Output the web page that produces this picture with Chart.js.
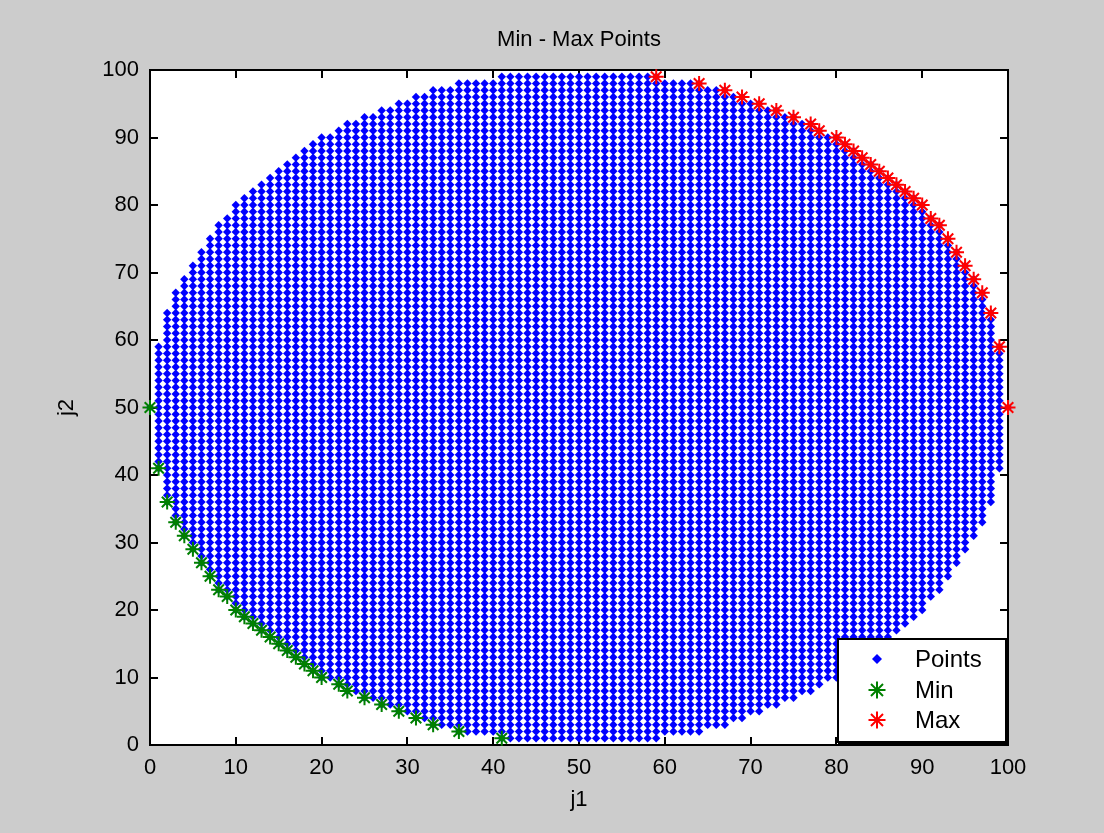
<!DOCTYPE html>
<html>
<head>
<meta charset="utf-8">
<script src="https://cdn.jsdelivr.net/npm/chart.js@4.4.1/dist/chart.umd.min.js"></script>
<style>
  html, body { margin: 0; padding: 0; background: #cccccc; }
  #wrap { width: 1104px; height: 833px; }
  canvas { display: block; }
</style>
</head>
<body>
<div id="wrap"><canvas id="c" width="1104" height="833"></canvas></div>
<script>
// ---------- text ----------
const chartTitle = 'Min - Max Points';
const xAxisLabel = 'j1';
const yAxisLabel = 'j2';
const legendLabels = ['Points', 'Min', 'Max'];

// ---------- tick labels ----------
const xTicks = [0, 10, 20, 30, 40, 50, 60, 70, 80, 90, 100];
const yTicks = [0, 10, 20, 30, 40, 50, 60, 70, 80, 90, 100];

// ---------- blue point cloud: one row per j2 value, first and last j1 of the row ----------
const rowJ2 = [
   1,  2,  3,  4,  5,  6,  7,  8,  9, 10,
  11, 12, 13, 14, 15, 16, 17, 18, 19, 20,
  21, 22, 23, 24, 25, 26, 27, 28, 29, 30,
  31, 32, 33, 34, 35, 36, 37, 38, 39, 40,
  41, 42, 43, 44, 45, 46, 47, 48, 49, 50,
  51, 52, 53, 54, 55, 56, 57, 58, 59, 60,
  61, 62, 63, 64, 65, 66, 67, 68, 69, 70,
  71, 72, 73, 74, 75, 76, 77, 78, 79, 80,
  81, 82, 83, 84, 85, 86, 87, 88, 89, 90,
  91, 92, 93, 94, 95, 96, 97, 98, 99
];
const rowJ1First = [
  41, 36, 33, 31, 29, 27, 25, 23, 22, 20,
  19, 18, 17, 16, 15, 14, 13, 12, 11, 10,
  10,  9,  8,  8,  7,  7,  6,  6,  5,  5,
   4,  4,  3,  3,  3,  2,  2,  2,  2,  2,
   1,  1,  1,  1,  1,  1,  1,  1,  1,  0,
   1,  1,  1,  1,  1,  1,  1,  1,  1,  2,
   2,  2,  2,  2,  3,  3,  3,  4,  4,  5,
   5,  6,  6,  7,  7,  8,  8,  9, 10, 10,
  11, 12, 13, 14, 15, 16, 17, 18, 19, 20,
  22, 23, 25, 27, 29, 31, 33, 36, 41
];
const rowJ1Last = [
  59, 64, 67, 69, 71, 73, 75, 77, 78, 80,
  81, 82, 83, 84, 85, 86, 87, 88, 89, 90,
  90, 91, 92, 92, 93, 93, 94, 94, 95, 95,
  96, 96, 97, 97, 97, 98, 98, 98, 98, 98,
  99, 99, 99, 99, 99, 99, 99, 99, 99, 100,
  99, 99, 99, 99, 99, 99, 99, 99, 99, 98,
  98, 98, 98, 98, 97, 97, 97, 96, 96, 95,
  95, 94, 94, 93, 93, 92, 92, 91, 90, 90,
  89, 88, 87, 86, 85, 84, 83, 82, 81, 80,
  78, 77, 75, 73, 71, 69, 67, 64, 59
];

// ---------- Min points (green) ----------
const minJ1 = [0, 1, 2, 3, 4, 5, 6, 7, 8, 9, 10, 11, 12, 13, 14, 15, 16, 17, 18, 19, 20, 22, 23, 25, 27, 29, 31, 33, 36, 41];
const minJ2 = [50, 41, 36, 33, 31, 29, 27, 25, 23, 22, 20, 19, 18, 17, 16, 15, 14, 13, 12, 11, 10, 9, 8, 7, 6, 5, 4, 3, 2, 1];

// ---------- Max points (red) ----------
const maxJ1 = [59, 64, 67, 69, 71, 73, 75, 77, 78, 80, 81, 82, 83, 84, 85, 86, 87, 88, 89, 90, 91, 92, 93, 94, 95, 96, 97, 98, 99, 100];
const maxJ2 = [99, 98, 97, 96, 95, 94, 93, 92, 91, 90, 89, 88, 87, 86, 85, 84, 83, 82, 81, 80, 78, 77, 75, 73, 71, 69, 67, 64, 59, 50];

// ---------- build data for the library ----------
const pointsData = [];
rowJ2.forEach((j2, i) => {
  for (let j1 = rowJ1First[i]; j1 <= rowJ1Last[i]; j1++) pointsData.push({ x: j1, y: j2 });
});
const minData = minJ1.map((v, i) => ({ x: v, y: minJ2[i] }));
const maxData = maxJ1.map((v, i) => ({ x: v, y: maxJ2[i] }));

const FONT = "'Liberation Sans', Arial, Helvetica, sans-serif";
const BLUE = '#0000ff', GREEN = '#008000', RED = '#ff0000';

function drawDiamond(ctx, x, y, r, color) {
  ctx.beginPath();
  ctx.moveTo(x - r, y); ctx.lineTo(x, y - r); ctx.lineTo(x + r, y); ctx.lineTo(x, y + r);
  ctx.closePath();
  ctx.fillStyle = color; ctx.fill();
}
function drawStar(ctx, x, y, r, color) {
  ctx.beginPath();
  ctx.moveTo(x - r, y); ctx.lineTo(x + r, y);
  ctx.moveTo(x, y - r); ctx.lineTo(x, y + r);
  const d = r * Math.SQRT1_2;
  ctx.moveTo(x - d, y - d); ctx.lineTo(x + d, y + d);
  ctx.moveTo(x - d, y + d); ctx.lineTo(x + d, y - d);
  ctx.strokeStyle = color; ctx.lineWidth = 2; ctx.stroke();
}

const matlabPlugin = {
  id: 'matlabLook',
  beforeDraw(chart) {
    const { ctx, chartArea: a } = chart;
    ctx.save();
    ctx.fillStyle = '#cccccc';
    ctx.fillRect(0, 0, chart.width, chart.height);
    ctx.fillStyle = '#ffffff';
    ctx.fillRect(a.left, a.top, a.right - a.left, a.bottom - a.top);
    ctx.restore();
  },
  beforeDatasetsDraw(chart) {
    const { ctx, chartArea: a, scales } = chart;
    ctx.save();
    ctx.strokeStyle = '#000000';
    ctx.lineWidth = 2;
    ctx.strokeRect(a.left, a.top, a.right - a.left, a.bottom - a.top);
    const tl = 8;
    ctx.beginPath();
    xTicks.forEach(v => {
      const px = Math.round(scales.x.getPixelForValue(v));
      ctx.moveTo(px, a.bottom); ctx.lineTo(px, a.bottom - tl);
      ctx.moveTo(px, a.top); ctx.lineTo(px, a.top + tl);
    });
    yTicks.forEach(v => {
      const py = Math.round(scales.y.getPixelForValue(v));
      ctx.moveTo(a.left, py); ctx.lineTo(a.left + tl, py);
      ctx.moveTo(a.right, py); ctx.lineTo(a.right - tl, py);
    });
    ctx.stroke();
    // title and axis labels
    ctx.fillStyle = '#000000';
    ctx.font = '22px ' + FONT;
    ctx.textAlign = 'center';
    ctx.textBaseline = 'middle';
    const cx = (a.left + a.right) / 2;
    ctx.fillText(chartTitle, cx, 40);
    ctx.fillText(xAxisLabel, cx, 800);
    ctx.save();
    ctx.translate(67, (a.top + a.bottom) / 2);
    ctx.rotate(-Math.PI / 2);
    ctx.fillText(yAxisLabel, 0, 0);
    ctx.restore();
    ctx.restore();
  },
  afterDraw(chart) {
    const { ctx } = chart;
    ctx.save();
    const L = 838, T = 639, R = 1006, B = 742;
    ctx.fillStyle = '#ffffff';
    ctx.fillRect(L, T, R - L, B - T);
    ctx.strokeStyle = '#000000';
    ctx.lineWidth = 2;
    ctx.strokeRect(L, T, R - L, B - T);
    // heavier right/bottom edge as in the reference legend frame
    ctx.lineWidth = 3;
    ctx.beginPath();
    ctx.moveTo(R + 1, T); ctx.lineTo(R + 1, B + 1); ctx.lineTo(L, B + 1);
    ctx.stroke();
    const ys = [659, 690, 720];
    const mx = 877, tx = 915;
    drawDiamond(ctx, mx, ys[0], 5, BLUE);
    drawStar(ctx, mx, ys[1], 8.5, GREEN);
    drawStar(ctx, mx, ys[2], 8.5, RED);
    ctx.fillStyle = '#000000';
    ctx.font = '24px ' + FONT;
    ctx.textAlign = 'left';
    ctx.textBaseline = 'middle';
    legendLabels.forEach((t, i) => ctx.fillText(t, tx, ys[i] + 1));
    ctx.restore();
  }
};

new Chart(document.getElementById('c'), {
  type: 'scatter',
  data: {
    datasets: [
      { label: legendLabels[0], data: pointsData, order: 2, clip: false,
        pointStyle: 'rectRot', pointRadius: 4.2, borderWidth: 0,
        backgroundColor: BLUE, borderColor: BLUE },
      { label: legendLabels[1], data: minData, order: 1, clip: false,
        pointStyle: 'star', pointRadius: 7.5, borderWidth: 2,
        backgroundColor: GREEN, borderColor: GREEN },
      { label: legendLabels[2], data: maxData, order: 0, clip: false,
        pointStyle: 'star', pointRadius: 7.5, borderWidth: 2,
        backgroundColor: RED, borderColor: RED }
    ]
  },
  options: {
    responsive: false,
    animation: false,
    events: [],
    layout: { padding: { left: 0, right: 96, top: 70, bottom: 0 } },
    plugins: { legend: { display: false }, tooltip: { enabled: false }, title: { display: false } },
    scales: {
      x: {
        type: 'linear', min: 0, max: 100,
        afterBuildTicks: s => { s.ticks = xTicks.map(v => ({ value: v })); },
        afterFit: s => { s.height = 88; },
        grid: { display: false, drawTicks: false },
        border: { display: false },
        ticks: { autoSkip: false, maxRotation: 0, padding: 10, color: '#000000',
                 font: { family: FONT, size: 22 }, callback: v => String(v) }
      },
      y: {
        type: 'linear', min: 0, max: 100,
        afterBuildTicks: s => { s.ticks = yTicks.map(v => ({ value: v })); },
        afterFit: s => { s.width = 150; },
        grid: { display: false, drawTicks: false },
        border: { display: false },
        ticks: { autoSkip: false, padding: 11, color: '#000000',
                 font: { family: FONT, size: 22 }, callback: v => String(v) }
      }
    }
  },
  plugins: [matlabPlugin]
});
</script>
</body>
</html>
